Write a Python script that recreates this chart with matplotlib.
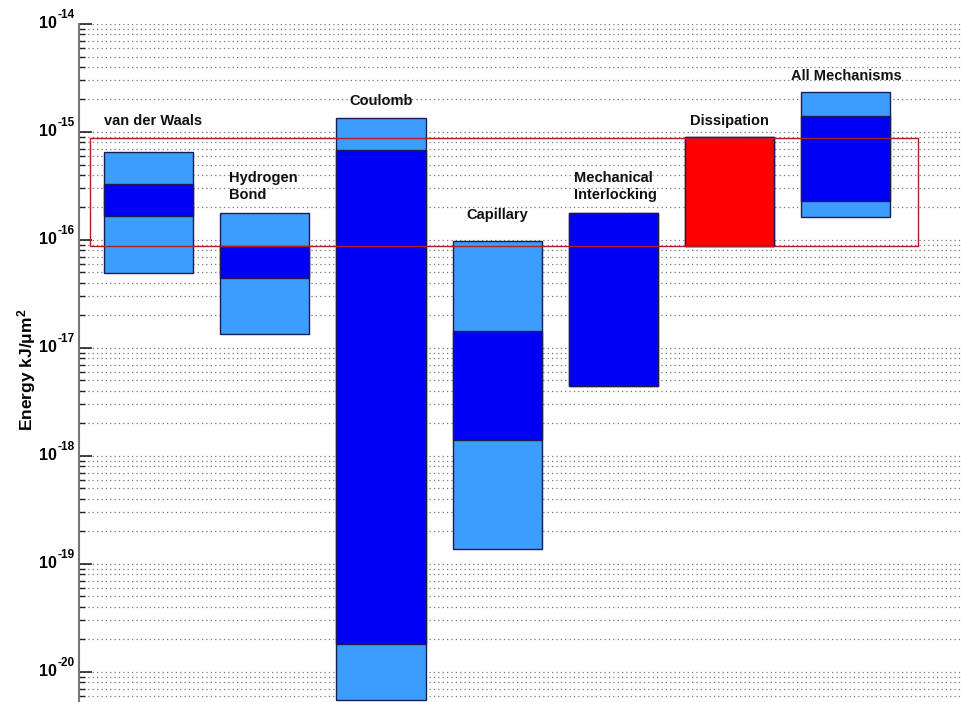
import matplotlib
matplotlib.use("Agg")
import matplotlib.pyplot as plt
from matplotlib.ticker import LogLocator, FixedLocator, NullFormatter
from matplotlib.patches import Rectangle
import numpy as np

plt.rcParams['font.family'] = ['Liberation Sans', 'DejaVu Sans']
plt.rcParams['mathtext.fontset'] = 'custom'
plt.rcParams['mathtext.rm'] = 'Liberation Sans:bold'
plt.rcParams['mathtext.it'] = 'Liberation Sans:bold:italic'
plt.rcParams['mathtext.bf'] = 'Liberation Sans:bold'

# ---- data ----
categories = ['van der Waals', 'Hydrogen\nBond', 'Coulomb', 'Capillary',
              'Mechanical\nInterlocking', 'Dissipation', 'All Mechanisms']
outer_low = [4.9e-17, 1.34e-17, 5.5e-21, 1.38e-19, 4.45e-18, 8.85e-17, 1.64e-16]
outer_high = [6.5e-16, 1.77e-16, 1.35e-15, 9.8e-17, 1.77e-16, 9.0e-16, 2.33e-15]
core_low = [1.66e-16, 4.42e-17, 1.83e-20, 1.41e-18, 4.45e-18, 8.85e-17, 2.30e-16]
core_high = [3.3e-16, 8.85e-17, 6.8e-16, 1.44e-17, 1.77e-16, 9.0e-16, 1.40e-15]
band_low = 8.85e-17
band_high = 8.85e-16
tick_exponents = [-20, -19, -18, -17, -16, -15, -14]

# ---- styles ----
light = '#3d9dff'
dark = '#0000f5'
red = '#ff0000'
edge = '#1c1c50'
core_colors = [dark, dark, dark, dark, dark, red, dark]
label_ha = ['left', 'left', 'center', 'center', 'left', 'center', 'center']
label_dx = [0, 9, 0, 0, 5, 0, 0]      # pixels
label_dy = [31, 27, 17, 26, 27, 16, 16]  # pixels above top (to label centre)

fig = plt.figure(figsize=(9.61, 7.02), dpi=100)
ax = fig.add_axes([79/961, 0.0, 1 - 79/961, 1 - 24/702])
ax.set_yscale('log')
ax.set_ylim(5.27e-21, 1e-14)
ax.set_xlim(-0.598, 6.99)

x = np.arange(len(categories))
w = 0.766
ol = np.array(outer_low); oh = np.array(outer_high)
cl = np.array(core_low); ch = np.array(core_high)

ax.bar(x, oh - ol, bottom=ol, width=w, color=light, edgecolor=edge,
       linewidth=1.0, zorder=3)
ax.bar(x, ch - cl, bottom=cl, width=w, color=core_colors, edgecolor=edge,
       linewidth=1.0, zorder=4)

# red band rectangle
ax.add_patch(Rectangle((-0.503, band_low), 6.62 + 0.503, band_high - band_low,
                       fill=False, edgecolor='#b02020', linewidth=1.0, zorder=5))

for i, lab in enumerate(categories):
    xl = x[i] - w / 2 if label_ha[i] == 'left' else x[i]
    ax.annotate(lab, xy=(xl, oh[i]), xytext=(label_dx[i], label_dy[i]),
                textcoords='offset pixels', ha=label_ha[i], va='center',
                fontsize=10.5, fontweight='bold', color='#111111',
                linespacing=1.25, zorder=6)

# axes styling
ax.yaxis.set_major_locator(FixedLocator([10.0**e for e in tick_exponents]))
ax.yaxis.set_major_formatter(NullFormatter())
ax.yaxis.set_minor_locator(LogLocator(base=10, subs=np.arange(2, 10)))
ax.yaxis.set_minor_formatter(NullFormatter())
ax.tick_params(axis='y', which='major', direction='in', length=9, width=1.2,
               color='#222222')
ax.tick_params(axis='y', which='minor', direction='in', length=4, width=1.0,
               color='#222222')
ax.set_xticks([])
ax.grid(True, which='both', axis='y', linestyle=(0, (1, 2.5)), color='#777777',
        linewidth=0.9, zorder=0)
for s in ['top', 'right', 'bottom']:
    ax.spines[s].set_visible(False)
ax.spines['left'].set_color('#777777')
ax.spines['left'].set_linewidth(1.5)
ax.set_axisbelow(True)

# tick labels: "10" with small raised exponent
for e in tick_exponents:
    ax.annotate('10', xy=(0, 10.0**e), xycoords=('axes fraction', 'data'),
                xytext=(-22, 0), textcoords='offset pixels', ha='right',
                va='center', fontsize=11.5, fontweight='bold', annotation_clip=False)
    ax.annotate('-%d' % abs(e), xy=(0, 10.0**e), xycoords=('axes fraction', 'data'),
                xytext=(-22, 6), textcoords='offset pixels', ha='left',
                va='baseline', fontsize=8.5, fontweight='bold', annotation_clip=False)

fig.text(27/961, 1 - 370/702, 'Energy kJ/μm$^2$', rotation=90,
         ha='center', va='center', fontsize=12.5, fontweight='bold')

fig.savefig('out.png', dpi=100)
